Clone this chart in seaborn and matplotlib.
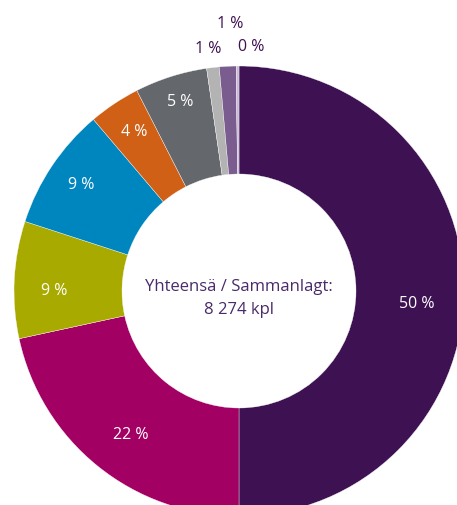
import matplotlib
matplotlib.use("Agg")
import matplotlib.pyplot as plt
import numpy as np
import seaborn as sns

# shares in percent, clockwise from 12 o'clock
shares = [50.0, 21.6, 8.4, 8.8, 3.7, 5.2, 0.9, 1.2, 0.2]
labels = ['50 %', '22 %', '9 %', '9 %', '4 %', '5 %', '1 %', '1 %', '0 %']
colors = ['#3D1152', '#A30064', '#A8AA00', '#0086BF', '#CF6016',
          '#64676B', '#B3B3B3', '#7B5C8E', '#C9B8D6']
total_text = 'Yhteensä / Sammanlagt:\n8 274 kpl'

# label placement: distance from centre, then small nudges in points
label_dist = [0.79, 0.80, 0.82, 0.86, 0.86, 0.89, 1.09, 1.20, 1.09]
nudge_x = [0, 3.5, -0.5, 2, 2, 1.5, -2, 3.5, 10]
nudge_y = [-9.5, -3, -6.5, -1, -1.5, -1.5, -1, -2, -1]

sns.set_theme(style="white")
plt.rcParams['font.family'] = ['Open Sans', 'DejaVu Sans']

fig = plt.figure(figsize=(4.57, 5.05), dpi=100)
# the ring runs off the right and bottom edges like in the original
ax = fig.add_axes([14 / 457, -11 / 505, 450 / 457, 450 / 505])

wedges, _ = ax.pie(shares, colors=colors, startangle=90, counterclock=False,
                   radius=1, wedgeprops=dict(width=0.48, edgecolor='white', linewidth=0.25))

for w, lab, d, nx, ny in zip(wedges, labels, label_dist, nudge_x, nudge_y):
    ang = np.deg2rad((w.theta1 + w.theta2) / 2)
    outside = d > 1
    ax.annotate(lab, xy=(d * np.cos(ang), d * np.sin(ang)),
                xytext=(nx, ny), textcoords='offset points',
                ha='center', va='center', fontsize=11.5,
                color='#3D1152' if outside else 'white',
                annotation_clip=False)

ax.text(0, -0.033, total_text, ha='center', va='center', fontsize=12,
        color='#4A2A6A', linespacing=1.53)

ax.set_xlim(-1, 1)
ax.set_ylim(-1, 1)
ax.set_aspect('equal')
ax.axis('off')

fig.savefig('out.png', dpi=100)
